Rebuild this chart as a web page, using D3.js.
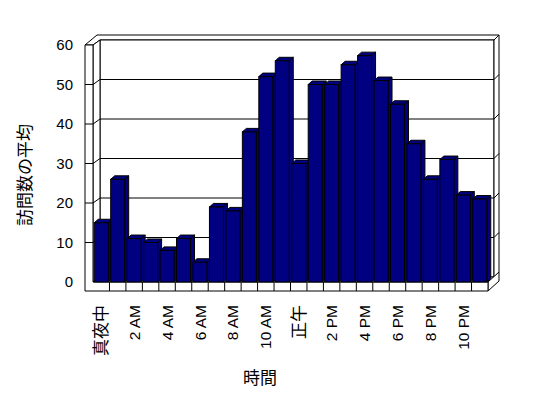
<!DOCTYPE html>
<html>
<head>
<meta charset="utf-8">
<script src="https://cdn.jsdelivr.net/npm/d3@7"></script>
<style>
    body { margin: 0; background: #fff; }
    svg text { font-family: "Liberation Sans", "Noto Sans CJK JP", sans-serif; fill: #000; }
    .cjk { font-family: "Noto Sans CJK JP", sans-serif; }
</style>
</head>
<body>
<svg id="chart" width="548" height="398"></svg>
<script>
// Hours of the day (one bar each) and the average visit count
var hours = ['0', '1', '2', '3', '4', '5', '6', '7', '8', '9', '10', '11',
    '12', '13', '14', '15', '16', '17', '18', '19', '20', '21', '22', '23'];
var visits = [15, 26, 11, 10, 8, 11, 5, 19, 18, 38, 52, 56,
    30, 50, 50, 55, 57.3, 51, 45, 35, 26, 31, 22, 21];

// Only every other hour gets a label
var hourLabels = ['真夜中', '2 AM', '4 AM', '6 AM', '8 AM', '10 AM',
    '正午', '2 PM', '4 PM', '6 PM', '8 PM', '10 PM'];
var valueTicks = [0, 10, 20, 30, 40, 50, 60];

var yTitle = '訪問数の平均';
var xTitle = '時間';

var svg = d3.select('#chart');

var x = d3.scaleBand()
    .domain(hours)
    .range([93, 488])
    .paddingInner(0.15)
    .paddingOuter(0.075);

var y = d3.scaleLinear()
    .domain([0, 60])
    .range([282, 45]);

var depth = [7, -5];     // floor front -> back wall
var wallT = [5, -5];     // thickness of the back wall
var barD = [4, -3.5];    // depth of each column
var sideW = 8;           // thickness of the left wall
var floorT = 9;          // thickness of the floor

var x0 = x.range()[0], x1 = x.range()[1];
var yTop = y(60), yBase = y(0);

function poly(pts, fill) {
    return svg.append('polygon')
        .attr('points', pts.map(function (p) { return p.join(','); }).join(' '))
        .attr('fill', fill || '#fff')
        .attr('stroke', '#000')
        .attr('stroke-width', 1)
        .attr('stroke-linejoin', 'miter');
}

function line(ax, ay, bx, by) {
    svg.append('line')
        .attr('x1', ax).attr('y1', ay)
        .attr('x2', bx).attr('y2', by)
        .attr('stroke', '#000')
        .attr('stroke-width', 1);
}

// Tops of the walls (merged outline)
poly([[x0 - sideW, yTop], [x0, yTop], [x0 + depth[0], yTop + depth[1]],
    [x1 + depth[0] - 1, yTop + depth[1]],
    [x1 + depth[0] + wallT[0] - 1, yTop + depth[1] + wallT[1]],
    [x0 + 4, yTop + depth[1] + wallT[1]]]);

// Back wall face
var bx0 = x0 + depth[0], bx1 = x1 + depth[0] - 1;
poly([[bx0, yTop + depth[1]], [bx1, yTop + depth[1]],
    [bx1, yBase + depth[1]], [bx0, yBase + depth[1]]]);

// Back wall right end
poly([[bx1, yTop + depth[1]], [bx1 + wallT[0], yTop + depth[1] + wallT[1]],
    [bx1 + wallT[0], yBase + depth[1] + wallT[1]], [bx1, yBase + depth[1]]]);

valueTicks.forEach(function (v) {
    if (v === 0 || v === 60) return;
    var yb = y(v) + depth[1];
    line(bx0, yb, bx1, yb);
    line(bx1, yb, bx1 + wallT[0], yb + wallT[1]);
});

// Left wall inner face
poly([[x0, yTop], [bx0, yTop + depth[1]], [bx0, yBase + depth[1]], [x0, yBase]]);
valueTicks.forEach(function (v) {
    if (v === 0 || v === 60) return;
    line(x0, y(v), bx0, y(v) + depth[1]);
});

// Floor top and right side
poly([[x0, yBase], [x1, yBase], [x1 + depth[0], yBase + depth[1]], [bx0, yBase + depth[1]]]);
poly([[x1, yBase], [x1 + depth[0] + wallT[0] - 1, yBase + depth[1] + wallT[1]],
    [x1 + depth[0] + wallT[0] - 1, yBase + depth[1] + wallT[1] + floorT],
    [x1, yBase + floorT]]);

// Front faces of left wall and floor (one outline)
poly([[x0 - sideW, yTop], [x0, yTop], [x0, yBase], [x1, yBase],
    [x1, yBase + floorT], [x0 - sideW, yBase + floorT]]);
valueTicks.forEach(function (v) {
    if (v === 0 || v === 60) return;
    line(x0 - sideW, y(v), x0, y(v));
});
hours.forEach(function (h, i) {
    if (i === 0) return;
    var xx = x(h) - x.step() * x.paddingInner() / 2;
    line(xx, yBase, xx, yBase + floorT);
});

// Columns, drawn left to right so each front covers the previous side
var bars = svg.selectAll('.bar')
    .data(hours.map(function (h, i) { return { hour: h, value: visits[i] }; }))
    .enter().append('g')
    .attr('class', 'bar');

bars.each(function (d) {
    var g = d3.select(this);
    var l = x(d.hour), r = l + x.bandwidth();
    var t = y(d.value), b = yBase;
    var pts = function (arr) { return arr.map(function (p) { return p.join(','); }).join(' '); };

    g.append('polygon')
        .attr('points', pts([[r, t], [r + barD[0], t + barD[1]], [r + barD[0], b + barD[1]], [r, b]]))
        .attr('fill', '#000080').attr('stroke', '#000');
    g.append('polygon')
        .attr('points', pts([[l, t], [l + barD[0], t + barD[1]], [r + barD[0], t + barD[1]], [r, t]]))
        .attr('fill', '#000080').attr('stroke', '#000');
    g.append('rect')
        .attr('x', l).attr('y', t)
        .attr('width', x.bandwidth()).attr('height', b - t)
        .attr('fill', '#000080').attr('stroke', '#000');
});

// Value labels
svg.selectAll('.ylab')
    .data(valueTicks)
    .enter().append('text')
    .attr('class', 'ylab')
    .attr('x', 73)
    .attr('y', function (d) { return y(d); })
    .attr('dy', '0.36em')
    .attr('text-anchor', 'end')
    .style('font-size', '15px')
    .text(function (d) { return d; });

// Hour labels, rotated
svg.selectAll('.xlab')
    .data(hourLabels)
    .enter().append('text')
    .attr('class', function (d, i) { return (i === 0 || i === 6) ? 'xlab cjk' : 'xlab'; })
    .attr('transform', function (d, i) {
        var cx = x(hours[i * 2]) + x.bandwidth() / 2;
        return 'translate(' + cx + ',305) rotate(-90)';
    })
    .attr('dy', '0.36em')
    .attr('text-anchor', 'end')
    .style('font-size', function (d, i) { return (i === 0 || i === 6) ? '17px' : '15.5px'; })
    .text(function (d) { return d; });

// Axis titles
svg.append('text')
    .attr('class', 'cjk')
    .attr('transform', 'translate(31,175) rotate(-90)')
    .attr('text-anchor', 'middle')
    .style('font-size', '17px')
    .text(yTitle);

svg.append('text')
    .attr('class', 'cjk')
    .attr('x', 260)
    .attr('y', 384)
    .attr('text-anchor', 'middle')
    .style('font-size', '17px')
    .text(xTitle);
</script>
</body>
</html>
